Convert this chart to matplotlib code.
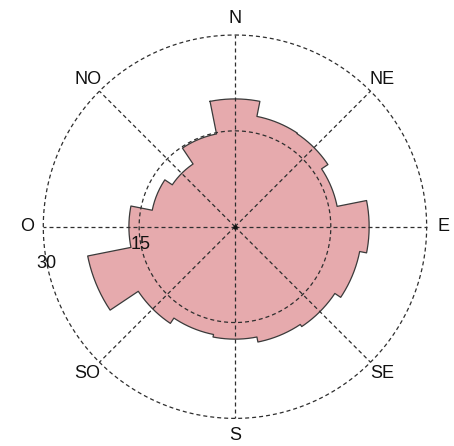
import numpy as np
import matplotlib
matplotlib.use("Agg")
import matplotlib.pyplot as plt

# Frequency per direction sector (16 sectors, clockwise from north)
sectors = ["N", "NNE", "NE", "ENE", "E", "ESE", "SE", "SSE",
           "S", "SSO", "SO", "OSO", "O", "ONO", "NO", "NNO"]
frequency = [20.0, 17.6, 17.5, 16.3, 21.0, 19.9, 18.8, 18.4,
             17.6, 17.2, 18.2, 23.5, 16.6, 13.2, 11.8, 14.8]

# Compass labels and radial tick values
compass_labels = ["N", "NE", "E", "SE", "S", "SO", "O", "NO"]
compass_angles = [0, 45, 90, 135, 180, 225, 270, 315]
radial_ticks = [15, 30]

plt.rcParams["font.family"] = ["Liberation Sans", "DejaVu Sans"]

fig = plt.figure(figsize=(4.54, 4.46), dpi=100)
ax = fig.add_axes([0.0953, 0.0619, 0.8445, 0.8596], projection="polar")
ax.set_theta_zero_location("N")
ax.set_theta_direction(-1)
ax.set_ylim(0, 30)
ax.axis("off")

n = len(frequency)
width = 2 * np.pi / n
centers = np.arange(n) * width

fill_color = "#e6aaad"
edge_color = "#3a3a3a"
grid_color = "#2e2e2e"

# Outline of the rose: one arc per sector at its frequency
th_path, r_path = [], []
for c, v in zip(centers, frequency):
    arc = np.linspace(c - width / 2, c + width / 2, 30)
    th_path.extend(arc)
    r_path.extend([v] * len(arc))
th_path.append(th_path[0])
r_path.append(r_path[0])

ax.fill(th_path, r_path, color=fill_color, lw=0, zorder=1)
ax.plot(th_path, r_path, color=edge_color, lw=0.9, zorder=3)

# Dashed grid: circles and spokes
dash = (0, (3.2, 2.4))
circ = np.linspace(0, 2 * np.pi, 400)
for rt in radial_ticks:
    ax.plot(circ, np.full_like(circ, rt), color=grid_color, lw=0.9,
            linestyle=dash, zorder=4, clip_on=False)
for a in compass_angles:
    t = np.deg2rad(a)
    ax.plot([t, t], [0, 30], color=grid_color, lw=0.9, linestyle=dash,
            zorder=4, clip_on=False)
ax.plot([0], [0], marker="o", ms=2.2, color="#111111", zorder=5)

# Compass labels
for lab, a in zip(compass_labels, compass_angles):
    ax.text(np.deg2rad(a), 32.6, lab, ha="center", va="center",
            fontsize=13, color="#111111", clip_on=False)

# Radial tick labels
for rt in radial_ticks:
    ax.text(np.deg2rad(259), rt, str(rt), ha="center", va="center",
            fontsize=13, color="#111111", zorder=6, clip_on=False)

fig.savefig("out.png", dpi=100)
